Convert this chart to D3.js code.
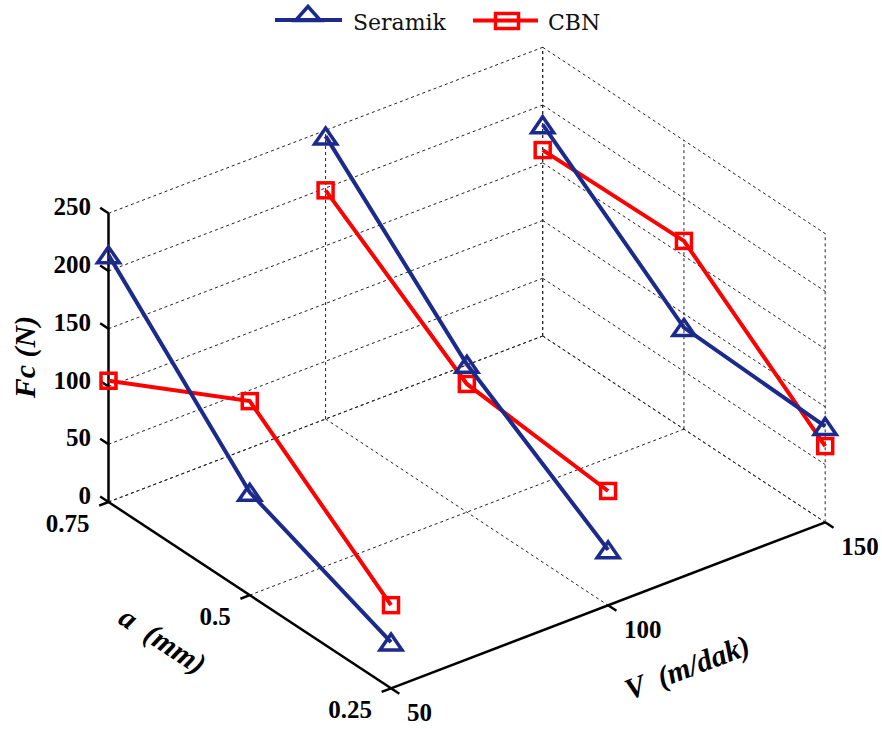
<!DOCTYPE html>
<html>
<head>
<meta charset="utf-8">
<script src="https://cdn.jsdelivr.net/npm/d3@7"></script>
<style>
  body { margin: 0; background: #fff; }
  svg { display: block; }
  .tick-label { font-family: 'Liberation Serif'; font-weight: bold; font-size: 25px; }
  .axis-title { font-family: 'Liberation Serif'; font-weight: bold; font-style: italic; font-size: 30px; white-space: pre; }
  .legend-text { font-family: 'DejaVu Serif'; font-size: 22px; }
</style>
</head>
<body>
<div id="chart"></div>
<script>
// data
const aValues = [0.75, 0.5, 0.25]          // a (mm)
const vValues = [50, 100, 150]             // V (m/dak)
const fcTicks = [0, 50, 100, 150, 200, 250]
const aTickLabels = ['0.75', '0.5', '0.25']
const vTickLabels = ['50', '100', '150']

// Fc per V, in the order of aValues
const seramik50 = [214, 89, 40]
const seramik100 = [245, 128, 48]
const seramik150 = [183, 88, 83]
const cbn50 = [105, 168, 72]
const cbn100 = [198, 111, 99]
const cbn150 = [161, 163, 66]

const seramik = [seramik50, seramik100, seramik150]
const cbn = [cbn50, cbn100, cbn150]

const width = 882, height = 729
const blue = '#1b2a8b', red = '#ff0000'

const svg = d3.select('#chart').append('svg')
    .attr('width', width)
    .attr('height', height)
svg.append('rect').attr('width', width).attr('height', height).attr('fill', '#fff')

// 3D box -> screen (fixed view)
const origin = [108.5, 502]
const aDir = [282.5, 186.3]
const vDir = [434.2, -166]
const zDir = [0, -288.7]

const aScale = d3.scaleLinear().domain([0.75, 0.25]).range([0, 1])
const vScale = d3.scaleLinear().domain([50, 150]).range([0, 1])
const zScale = d3.scaleLinear().domain([0, 250]).range([0, 1])

function proj(a, v, z) {
    const ta = aScale(a), tv = vScale(v), tz = zScale(z)
    return [
        origin[0] + aDir[0] * ta + vDir[0] * tv + zDir[0] * tz,
        origin[1] + aDir[1] * ta + vDir[1] * tv + zDir[1] * tz
    ]
}

const aMin = 0.25, aMax = 0.75, vMin = 50, vMax = 150, zMax = 250

// grid
const grid = svg.append('g')
    .attr('stroke', '#222')
    .attr('stroke-width', 1)
    .attr('stroke-dasharray', '3,3')
    .attr('fill', 'none')

function seg(g, p, q) {
    g.append('line')
        .attr('x1', p[0]).attr('y1', p[1])
        .attr('x2', q[0]).attr('y2', q[1])
}

fcTicks.forEach(t => {
    seg(grid, proj(aMax, vMin, t), proj(aMax, vMax, t))
    seg(grid, proj(aMax, vMax, t), proj(aMin, vMax, t))
})
vValues.filter(v => v !== vMin).forEach(v => {
    seg(grid, proj(aMax, v, 0), proj(aMax, v, zMax))
    seg(grid, proj(aMax, v, 0), proj(aMin, v, 0))
})
aValues.forEach(a => {
    seg(grid, proj(a, vMax, 0), proj(a, vMax, zMax))
    seg(grid, proj(a, vMin, 0), proj(a, vMax, 0))
})

// axes
const axes = svg.append('g')
    .attr('stroke', '#000')
    .attr('stroke-width', 2.5)
    .attr('fill', 'none')
seg(axes, proj(aMax, vMin, 0), proj(aMax, vMin, zMax))
seg(axes, proj(aMax, vMin, 0), proj(aMin, vMin, 0))
seg(axes, proj(aMin, vMin, 0), proj(aMin, vMax, 0))

const tickLen = 10
const aUnit = [aDir[0] / Math.hypot(...aDir), aDir[1] / Math.hypot(...aDir)]
const vUnit = [vDir[0] / Math.hypot(...vDir), vDir[1] / Math.hypot(...vDir)]

const labels = svg.append('g').attr('fill', '#000')

fcTicks.forEach(t => {
    const p = proj(aMax, vMin, t)
    seg(axes, p, [p[0] - aUnit[0] * tickLen, p[1] - aUnit[1] * tickLen])
    labels.append('text')
        .attr('class', 'tick-label')
        .attr('x', 91).attr('y', p[1] + 2)
        .attr('text-anchor', 'end')
        .text(t)
})
aValues.forEach((a, i) => {
    const p = proj(a, vMin, 0)
    seg(axes, p, [p[0] - vUnit[0] * tickLen, p[1] - vUnit[1] * tickLen])
    labels.append('text')
        .attr('class', 'tick-label')
        .attr('x', p[0] - 19).attr('y', p[1] + 30)
        .attr('text-anchor', 'end')
        .text(aTickLabels[i])
})
vValues.forEach((v, i) => {
    const p = proj(aMin, v, 0)
    seg(axes, p, [p[0] + aUnit[0] * tickLen, p[1] + aUnit[1] * tickLen])
    labels.append('text')
        .attr('class', 'tick-label')
        .attr('x', p[0] + 16).attr('y', p[1] + 32.5)
        .text(vTickLabels[i])
})

// axis titles
const titles = svg.append('g')
    .attr('fill', '#000')
    .attr('text-anchor', 'middle')

titles.append('text')
    .attr('class', 'axis-title')
    .attr('transform', 'translate(35,357) rotate(-90)')
    .text('Fc (N)')
const aAngle = Math.atan2(aDir[1], aDir[0]) * 180 / Math.PI
const vAngle = Math.atan2(vDir[1], vDir[0]) * 180 / Math.PI
titles.append('text')
    .attr('class', 'axis-title')
    .attr('transform', `translate(163,640) rotate(${aAngle})`)
    .attr('dy', '0.35em')
    .text('a  (mm)')
titles.append('text')
    .attr('class', 'axis-title')
    .attr('transform', `translate(687,667) rotate(${vAngle})`)
    .attr('dy', '0.35em')
    .text('V  (m/dak)')

// markers
function triangle(g, x, y, w, h, color) {
    g.append('path')
        .attr('d', `M${x},${y - h / 2}L${x + w / 2},${y + h / 2}L${x - w / 2},${y + h / 2}Z`)
        .attr('fill', 'none')
        .attr('stroke', color)
        .attr('stroke-width', 3.5)
        .attr('stroke-linejoin', 'miter')
}
function square(g, x, y, w, h, color) {
    g.append('rect')
        .attr('x', x - w / 2).attr('y', y - h / 2)
        .attr('width', w).attr('height', h)
        .attr('fill', 'none')
        .attr('stroke', color)
        .attr('stroke-width', 3.5)
}

const line = d3.line()
    .x(d => d[0])
    .y(d => d[1])

function drawSeries(series, color, marker) {
    const g = svg.append('g')
    series.forEach((vals, vi) => {
        const pts = vals.map((fc, ai) => proj(aValues[ai], vValues[vi], fc))
        g.append('path')
            .attr('d', line(pts))
            .attr('fill', 'none')
            .attr('stroke', color)
            .attr('stroke-width', 4)
        pts.forEach(p => marker(g, p[0], p[1], color))
    })
}

drawSeries(cbn, red, (g, x, y, c) => square(g, x, y, 15, 15, c))
drawSeries(seramik, blue, (g, x, y, c) => triangle(g, x, y, 22, 16, c))

// legend
const legend = svg.append('g')
legend.append('line').attr('x1', 275).attr('x2', 342).attr('y1', 20).attr('y2', 20)
    .attr('stroke', blue).attr('stroke-width', 4)
triangle(legend, 308, 13.5, 25, 14, blue)
legend.append('line').attr('x1', 473).attr('x2', 538).attr('y1', 20.5).attr('y2', 20.5)
    .attr('stroke', red).attr('stroke-width', 4)
square(legend, 507, 21, 23, 15, red)

legend.selectAll('text')
    .data([['Seramik', 353], ['CBN', 548]])
    .enter()
    .append('text')
    .attr('class', 'legend-text')
    .attr('x', d => d[1])
    .attr('y', 30)
    .attr('fill', '#111')
    .text(d => d[0])
</script>
</body>
</html>
